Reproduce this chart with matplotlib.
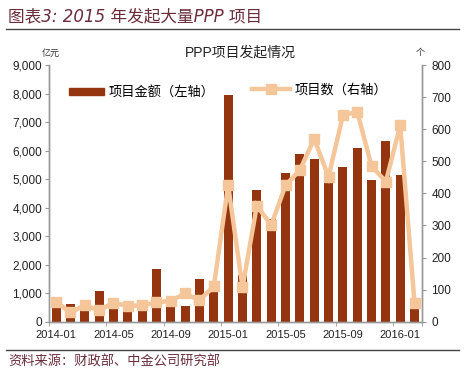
import matplotlib
matplotlib.use('Agg')
import matplotlib.pyplot as plt
from matplotlib.lines import Line2D
from matplotlib.patches import Patch
from matplotlib.ticker import FuncFormatter

plt.rcParams['font.family'] = ['Liberation Sans', 'Noto Sans CJK SC', 'DejaVu Sans']

months = ['2014-01', '2014-02', '2014-03', '2014-04', '2014-05', '2014-06', '2014-07',
          '2014-08', '2014-09', '2014-10', '2014-11', '2014-12', '2015-01', '2015-02',
          '2015-03', '2015-04', '2015-05', '2015-06', '2015-07', '2015-08', '2015-09',
          '2015-10', '2015-11', '2015-12', '2016-01', '2016-02']
# project amount (100 million yuan, left axis)
amounts = [500, 635, 400, 1060, 500, 380, 400, 1860, 550, 540, 1500, 1070, 7950,
           1650, 4630, 3600, 5220, 5890, 5720, 4900, 5440, 6100, 4980, 6330, 5150, 470]
# number of projects (right axis)
counts = [62, 29, 51, 36, 59, 49, 51, 60, 65, 88, 67, 110, 425,
          107, 362, 301, 425, 473, 570, 452, 643, 655, 485, 437, 612, 57]

bar_color = '#953510'
line_color = '#f4c69a'
text_red = '#6b2d3a'
cjk = ['Noto Sans CJK SC', 'DejaVu Sans']

fig = plt.figure(figsize=(4.66, 3.70), dpi=100)
fig.patch.set_facecolor('white')

ax = fig.add_axes([0.105, 0.1305, 0.8, 0.6935])
x = list(range(len(months)))
ax.bar(x, amounts, width=0.63, color=bar_color, zorder=2)
ax.set_xlim(-0.5, len(months) - 0.5)
ax.set_ylim(0, 9000)
ax.set_yticks(range(0, 9001, 1000))
ax.yaxis.set_major_formatter(FuncFormatter(lambda v, p: f'{int(v):,}'))

ax2 = ax.twinx()
ax2.plot(x, counts, color=line_color, lw=3.2, marker='s', ms=7,
         solid_joinstyle='miter', zorder=3)
ax2.set_ylim(0, 800)
ax2.set_yticks(range(0, 801, 100))

# x ticks: labels every 4 months, tick marks at category boundaries
ax.set_xticks(x[::4])
ax.set_xticklabels(months[::4])
ax.set_xticks([i - 0.5 for i in x[::4]] + [len(months) - 0.5], minor=True)
ax.tick_params(axis='x', which='major', length=0, pad=6, labelsize=8, colors='#222222')
ax.tick_params(axis='x', which='minor', length=3, color='#999999', direction='out')
ax.tick_params(axis='y', length=3, labelsize=8.5, pad=2, colors='#999999', labelcolor='#222222')
ax2.tick_params(axis='y', length=3, labelsize=8.5, pad=4, colors='#999999', labelcolor='#222222')

for a in (ax, ax2):
    a.spines['top'].set_visible(False)
    for s in ('left', 'right', 'bottom'):
        a.spines[s].set_color('#999999')
        a.spines[s].set_linewidth(1.0)

# legends
leg1 = ax2.legend(handles=[Patch(color=bar_color)], labels=['项目金额（左轴）'],
                  loc='center left', bbox_to_anchor=(0.055, 0.891), frameon=False,
                  borderpad=0, borderaxespad=0, handlelength=2.6, handleheight=0.45,
                  handletextpad=0.4, prop={'family': cjk, 'size': 9.5})
ax2.add_artist(leg1)
ax2.legend(handles=[Line2D([], [], color=line_color, lw=3.2, marker='s', ms=7)],
           labels=['项目数（右轴）'], loc='center left', bbox_to_anchor=(0.545, 0.903),
           frameon=False, borderpad=0, borderaxespad=0, handlelength=2.9,
           handletextpad=0.3, prop={'family': cjk, 'size': 9.5})

# texts
fig.text(0.515, 0.859, 'PPP项目发起情况', ha='center', va='center',
         family=['Liberation Sans'] + cjk, fontsize=10, color='#222222')
fig.text(0.108, 0.855, '亿元', ha='center', va='center', family=cjk, fontsize=6.5,
         color='#333333')
fig.text(0.902, 0.857, '个', ha='center', va='center', family=cjk, fontsize=6.5,
         color='#333333')

fig.text(0.017, 0.955, '图表3: 2015 年发起大量PPP 项目', ha='left', va='center',
         family=['DejaVu Sans', 'Noto Sans CJK SC'], style='italic', fontsize=12,
         color=text_red)
fig.add_artist(Line2D([0.012, 0.985], [0.921, 0.921], color='#444444', lw=1.0))
fig.add_artist(Line2D([0.012, 0.985], [0.054, 0.054], color='#444444', lw=1.0))
fig.text(0.017, 0.022, '资料来源：财政部、中金公司研究部', ha='left', va='center',
         family=cjk, fontsize=9.5, color=text_red)

fig.savefig('out.png', dpi=100, facecolor='white')
